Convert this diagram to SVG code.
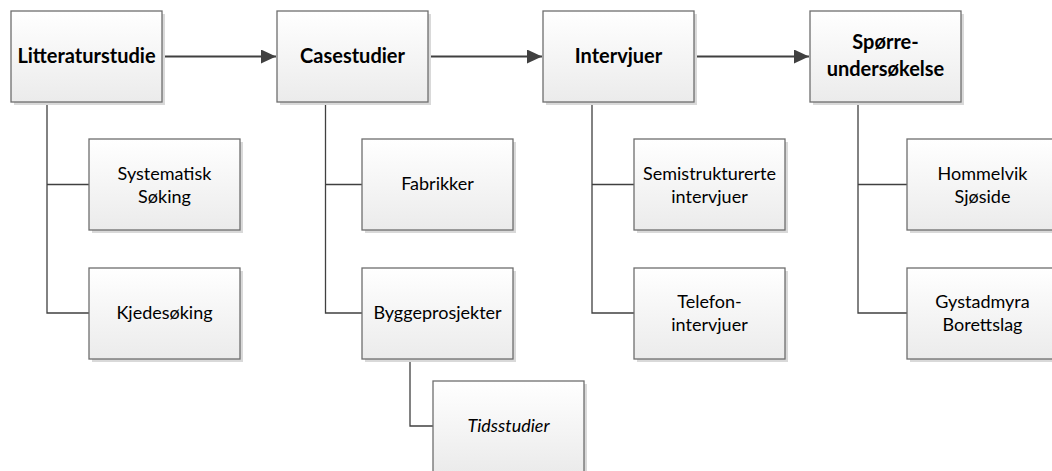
<svg xmlns="http://www.w3.org/2000/svg" width="1052" height="471" viewBox="0 0 1052 471">
<style>
.box{fill:url(#g);stroke:#6e6e6e;stroke-width:1.3}
.sh{fill:#d9d9d9}
.t{font-family:Lato,"Liberation Sans",sans-serif;font-size:18px;fill:#000;text-anchor:middle}
.b{font-weight:bold;font-size:20px}
.i{font-style:italic}
.c{fill:none;stroke:#404040;stroke-width:1.3}
.a{fill:none;stroke:#404040;stroke-width:2.2}
</style>
<defs>
<linearGradient id="g" x1="0" y1="0" x2="0" y2="1">
<stop offset="0" stop-color="#ffffff"/>
<stop offset="1" stop-color="#ebebeb"/>
</linearGradient>
<marker id="ar" markerWidth="15" markerHeight="14" refX="15" refY="7" orient="auto" markerUnits="userSpaceOnUse">
<path d="M0,0 L15,7 L0,14 Z" fill="#404040"/>
</marker>
</defs>
<g id="connectors">
<path class="a" d="M162,56.5 H276" marker-end="url(#ar)"/>
<path class="a" d="M429,56.5 H542" marker-end="url(#ar)"/>
<path class="a" d="M695,56.5 H809" marker-end="url(#ar)"/>
<path class="c" d="M47,102 V313 H89 M47,184.5 H89"/>
<path class="c" d="M325.5,102 V313 H362 M325.5,184.5 H362"/>
<path class="c" d="M410,359 V426 H433"/>
<path class="c" d="M592,102 V313 H634 M592,184.5 H634"/>
<path class="c" d="M858,102 V313 H907 M858,184.5 H907"/>
</g>
<g id="n1"><rect class="sh" x="14" y="14" width="151" height="91"/><rect class="box" x="11" y="11" width="151" height="91"/><text class="t b" x="86.5" y="63">Litteraturstudie</text></g>
<g id="n2"><rect class="sh" x="280" y="14" width="151" height="91"/><rect class="box" x="277" y="11" width="151" height="91"/><text class="t b" x="352.5" y="63">Casestudier</text></g>
<g id="n3"><rect class="sh" x="546" y="14" width="151" height="91"/><rect class="box" x="543" y="11" width="151" height="91"/><text class="t b" x="618.5" y="63">Intervjuer</text></g>
<g id="n4"><rect class="sh" x="813" y="14" width="151" height="91"/><rect class="box" x="810" y="11" width="151" height="91"/><text class="t b" x="885.5" y="49">Spørre-</text><text class="t b" x="885.5" y="76">undersøkelse</text></g>
<g id="n5"><rect class="sh" x="92" y="142" width="151" height="91"/><rect class="box" x="89" y="139" width="151" height="91"/><text class="t" x="164.5" y="180">Systematisk</text><text class="t" x="164.5" y="203">Søking</text></g>
<g id="n6"><rect class="sh" x="92" y="271" width="151" height="91"/><rect class="box" x="89" y="268" width="151" height="91"/><text class="t" x="164.5" y="319">Kjedesøking</text></g>
<g id="n7"><rect class="sh" x="365" y="142" width="151" height="91"/><rect class="box" x="362" y="139" width="151" height="91"/><text class="t" x="437.5" y="190">Fabrikker</text></g>
<g id="n8"><rect class="sh" x="365" y="271" width="151" height="91"/><rect class="box" x="362" y="268" width="151" height="91"/><text class="t" x="437.5" y="319">Byggeprosjekter</text></g>
<g id="n9"><rect class="sh" x="436" y="384" width="151" height="91"/><rect class="box" x="433" y="381" width="151" height="91"/><text class="t i" x="508.5" y="432">Tidsstudier</text></g>
<g id="n10"><rect class="sh" x="637" y="142" width="151" height="91"/><rect class="box" x="634" y="139" width="151" height="91"/><text class="t" x="709.5" y="180">Semistrukturerte</text><text class="t" x="709.5" y="203">intervjuer</text></g>
<g id="n11"><rect class="sh" x="637" y="271" width="151" height="91"/><rect class="box" x="634" y="268" width="151" height="91"/><text class="t" x="709.5" y="308">Telefon-</text><text class="t" x="709.5" y="331">intervjuer</text></g>
<g id="n12"><rect class="sh" x="910" y="142" width="151" height="91"/><rect class="box" x="907" y="139" width="151" height="91"/><text class="t" x="982.5" y="180">Hommelvik</text><text class="t" x="982.5" y="203">Sjøside</text></g>
<g id="n13"><rect class="sh" x="910" y="271" width="151" height="91"/><rect class="box" x="907" y="268" width="151" height="91"/><text class="t" x="982.5" y="308">Gystadmyra</text><text class="t" x="982.5" y="331">Borettslag</text></g>
</svg>
